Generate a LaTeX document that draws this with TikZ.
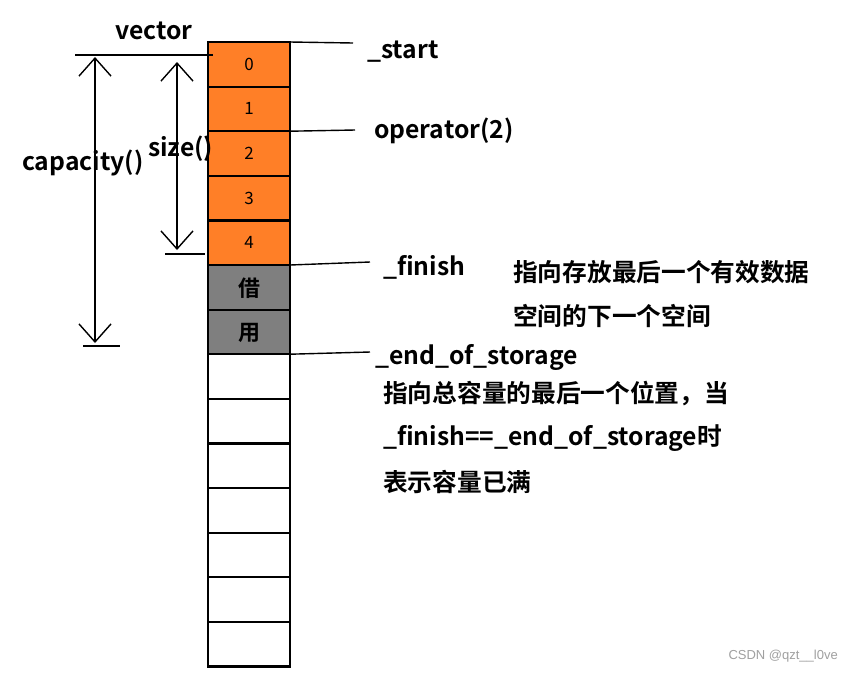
\documentclass[tikz,border=0pt]{standalone}
\usepackage{fontspec}
\setmainfont{Noto Sans CJK SC}[BoldFont={Noto Sans CJK SC Bold}]
\newfontfamily\wmfont{Liberation Sans}
\definecolor{cUsed}{HTML}{FF7F27}
\definecolor{cLent}{HTML}{7F7F7F}
\definecolor{cMark}{HTML}{A0A0A0}
\usetikzlibrary{positioning,arrows.meta}

\begin{document}
\begin{tikzpicture}[x=1pt,y=-1pt,
      cell/.style={draw,line width=2.2pt,minimum width=82pt,minimum height=44.6pt,
                   inner sep=0pt,outer sep=0pt,font=\fontsize{17}{19}\selectfont},
      used/.style={cell,fill=cUsed},
      lent/.style={cell,fill=cLent,font=\fontsize{22}{24}\selectfont\bfseries,text depth=-4pt},
      lbl/.style={anchor=west,inner sep=0pt,font=\fontsize{24.7}{27}\selectfont\bfseries},
      ptr/.style={line width=1.4pt},
      dim/.style={{Straight Barb[length=18pt,width=32pt]}-{Straight Barb[length=18pt,width=32pt]},
                  line width=1.4pt}]
    \fill[white] (0,0) rectangle (853,673);
    % the storage block
    \node[used] (c0) at (249,64.3) {0};
    \node[used,below=0pt of c0] (c1) {1};
    \node[used,below=0pt of c1] (c2) {2};
    \node[used,below=0pt of c2] (c3) {3};
    \node[used,below=0pt of c3] (c4) {4};
    \node[lent,below=0pt of c4] (c5) {借};
    \node[lent,below=0pt of c5] (c6) {用};
    \node[cell,below=0pt of c6] (c7) {};
    \node[cell,below=0pt of c7] (c8) {};
    \node[cell,below=0pt of c8] (c9) {};
    \node[cell,below=0pt of c9] (c10) {};
    \node[cell,below=0pt of c10] (c11) {};
    \node[cell,below=0pt of c11] (c12) {};
    \node[cell,below=0pt of c12] (c13) {};
    \node[lbl] (vec) at (115,31) {vector};
    % pointers
    \coordinate (pStart) at (353,43);
    \coordinate (pOp) at (355,130);
    \coordinate (pFin) at (370,262);
    \coordinate (pEnd) at (370,352);
    \draw[ptr] (c0.north east) -- (pStart);
    \draw[ptr] (c2.north east) -- (pOp);
    \draw[ptr] (c5.north east) -- (pFin);
    \draw[ptr] (c7.north east) -- (pEnd);
    \node[lbl] (start) at (367,52) {\_start};
    \node[lbl] (op) at (374,131) {operator(2)};
    \node[lbl] (fin) at (383,267) {\_finish};
    \node[lbl] (eos) at (375,357) {\_end\_of\_storage};
    \node[lbl] (finTxt) at (513,272) {指向存放最后一个有效数据};
    \node[lbl] (finTxt2) at (513,316) {空间的下一个空间};
    \node[lbl] (eosTxt) at (383,394) {指向总容量的最后一个位置，当};
    \node[lbl] (eosTxt2) at (383,438) {\_finish==\_end\_of\_storage时};
    \node[lbl] (eosTxt3) at (383,482) {表示容量已满};
    % size and capacity
    \coordinate (topL) at (75,55);
    \draw[ptr] (topL) -- ([xshift=5pt]c0.west |- topL);
    \coordinate (capT) at (95,57);
    \coordinate (capB) at (95,343);
    \coordinate (capL) at (83,346);
    \coordinate (capR) at (120,346);
    \draw[dim] (capT) -- (capB);
    \draw[ptr] (capL) -- (capR);
    \coordinate (szT) at (177,62);
    \coordinate (szB) at (177,250);
    \coordinate (szL) at (165,254);
    \coordinate (szR) at (205,254);
    \draw[dim] (szT) -- (szB);
    \draw[ptr] (szL) -- (szR);
    \node[lbl] (cap) at (22,163) {capacity()};
    \node[lbl] (sz) at (148,149) {size()};
    \node[anchor=east,inner sep=0pt,text=cMark,font=\wmfont\fontsize{13}{15}\selectfont] (wm)
      at (838,656) {CSDN @qzt\_\_l0ve};
  \end{tikzpicture}
\end{document}
